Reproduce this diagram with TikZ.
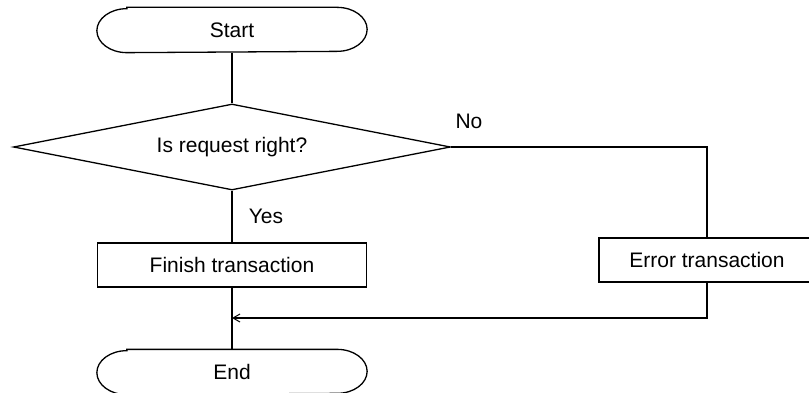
\documentclass[tikz,border=0pt]{standalone}
\usepackage{fontspec}
\setmainfont{Liberation Sans}
\usetikzlibrary{arrows.meta,shapes.geometric}
\tikzset{
  wire/.style={black,line width=1.3pt},
  flow/.style={wire,-{Straight Barb[length=7pt,width=8pt,line width=1pt]}},
  box/.style={draw=black,line width=1.3pt,minimum height=44pt,inner sep=2pt,
              font=\fontsize{21}{25}\selectfont},
  terminal/.style={box,draw=none,minimum width=269pt},
  process/.style={box,minimum width=269pt},
  decision/.style={box,diamond,aspect=5.08,minimum width=437pt,minimum height=86pt,inner sep=0pt},
  lab/.style={font=\fontsize{21}{25}\selectfont},
}
\begin{document}
\begin{tikzpicture}[x=1pt,y=1pt]
  \path[use as bounding box] (0,0) rectangle (809,392);

  \node[terminal] (start) at (232,362) {Start};
  \node[decision] (check) at (232,245) {Is request right?};
  \node[process] (finish) at (232,127) {Finish transaction};
  \node[process,minimum width=216pt] (error) at (707,132) {Error transaction};
  \node[terminal] (end) at (232,20) {End};

  % rounded ends of the terminals
  \foreach \n in {start,end}
    \draw[wire] ([xshift=30pt]\n.north west) -- ([xshift=-30pt]\n.north east)
      arc[start angle=90,end angle=-90,x radius=30pt,y radius=22pt]
      -- ([xshift=30pt]\n.south west)
      arc[start angle=270,end angle=90,x radius=30pt,y radius=22pt] -- cycle;

  \coordinate (merge) at (232,74);

  \draw[wire] (start.south) -- (check.north);
  \draw[wire] (check.south) -- (finish.north);
  \draw[wire] (finish.south) -- (end.north);
  \draw[wire] (check.east) -| (error.north);
  \draw[flow] (error.south) |- (merge);

  \node[lab] (yes) at (266,176) {Yes};
  \node[lab] (no) at (469,271) {No};
\end{tikzpicture}
\end{document}
